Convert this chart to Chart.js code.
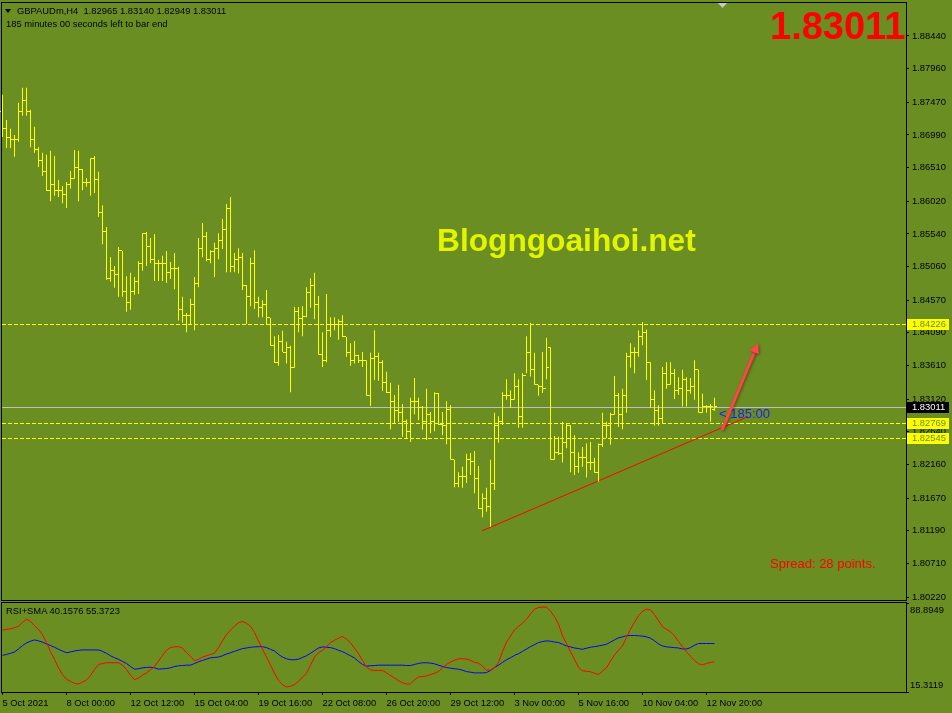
<!DOCTYPE html>
<html>
<head>
<meta charset="utf-8">
<title>GBPAUDm,H4</title>
<script src="https://cdn.jsdelivr.net/npm/chart.js@4.4.1/dist/chart.umd.min.js"></script>
<style>
  html, body { margin: 0; padding: 0; background: #6b8e23; }
  #wrap { position: relative; width: 952px; height: 713px; overflow: hidden; background: #6b8e23;
          font-family: 'Liberation Sans', Arial, sans-serif; }
  canvas { position: absolute; left: 0; }
  #cMain { top: 0; }
  #cRsi { top: 601px; }
  .txt { position: absolute; white-space: nowrap; }
  .small { font-size: 9.4px; line-height: 11px; color: #000; }
  .tri { position: absolute; left: 5px; top: 9px; width: 0; height: 0;
         border-left: 3.5px solid transparent; border-right: 3.5px solid transparent; border-top: 4px solid #000; }
</style>
</head>
<body>
<div id="wrap">
  <canvas id="cMain" width="952" height="602"></canvas>
  <canvas id="cRsi" width="952" height="112"></canvas>

  <div class="tri"></div>
  <div class="txt small" style="left:17px; top:5px;">GBPAUDm,H4&nbsp; 1.82965 1.83140 1.82949 1.83011</div>
  <div class="txt small" style="left:6px; top:18px;">185 minutes 00 seconds left to bar end</div>
  <div class="txt" style="left:770px; top:7px; font-size:38px; line-height:38px; font-weight:bold; color:#ff0000;">1.83011</div>
  <div class="txt" style="left:437px; top:225px; font-size:31.7px; line-height:31px; font-weight:bold; color:#e2f400;">Blogngoaihoi.net</div>
  <div class="txt" style="left:770px; top:557px; font-size:13px; line-height:13px; color:#ff0000;">Spread: 28 points.</div>
  <div class="txt" style="left:719px; top:407px; font-size:13px; line-height:13px; color:#1a1aff;">&lt; 185:00</div>
  <div class="txt small" style="left:6px; top:605px;">RSI+SMA 40.1576 55.3723</div>
</div>

<script>
// GBPAUD H4 bars (oldest first)
const opens = [
  1.8733,1.8708,1.8695,1.8692,1.8693,1.8734,1.8749,1.8733,1.8693,1.8677,
  1.8662,1.8645,1.8618,1.8627,1.8617,1.8617,1.8612,1.8627,1.8635,1.8651,
  1.8648,1.8629,1.8629,1.8664,1.8633,1.8586,1.8558,1.8489,1.8500,1.8494,
  1.8529,1.8469,1.8453,1.8470,1.8484,1.8511,1.8554,1.8535,1.8517,1.8510,
  1.8510,1.8511,1.8498,1.8504,1.8504,1.8443,1.8434,1.8434,1.8451,1.8482,
  1.8533,1.8550,1.8517,1.8528,1.8532,1.8545,1.8561,1.8591,1.8506,1.8516,
  1.8520,1.8479,1.8462,1.8510,1.8453,1.8446,1.8450,1.8431,1.8391,1.8366,
  1.8396,1.8381,1.8388,1.8359,1.8440,1.8430,1.8433,1.8468,1.8478,1.8451,
  1.8378,1.8368,1.8413,1.8422,1.8422,1.8425,1.8404,1.8381,1.8369,1.8376,
  1.8369,1.8369,1.8318,1.8372,1.8374,1.8366,1.8337,1.8322,1.8309,1.8295,
  1.8292,1.8279,1.8265,1.8308,1.8309,1.8299,1.8279,1.8290,1.8279,1.8320,
  1.8275,1.8274,1.8297,1.8223,1.8189,1.8198,1.8198,1.8223,1.8220,1.8195,
  1.8152,1.8167,1.8155,1.8189,1.8274,1.8279,1.8318,1.8317,1.8311,1.8330,
  1.8287,1.8347,1.8381,1.8356,1.8333,1.8330,1.8328,1.8388,1.8224,1.8234,
  1.8233,1.8249,1.8274,1.8234,1.8213,1.8227,1.8226,1.8219,1.8219,1.8205,
  1.8245,1.8274,1.8274,1.8290,1.8317,1.8289,1.8317,1.8374,1.8380,1.8381,
  1.8404,1.8409,1.8366,1.8311,1.8295,1.8284,1.8350,1.8334,1.8350,1.8325,
  1.8328,1.8340,1.8324,1.8330,1.8355,1.8293,1.8301,1.8301,1.82965
];
const highs = [
  1.8758,1.8721,1.8708,1.8699,1.8746,1.8768,1.8768,1.8736,1.8711,1.8681,
  1.8673,1.8670,1.8676,1.8668,1.8633,1.8624,1.8630,1.8646,1.8677,1.8676,
  1.8649,1.8636,1.8665,1.8668,1.8645,1.8596,1.8564,1.8520,1.8507,1.8535,
  1.8529,1.8492,1.8497,1.8491,1.8514,1.8555,1.8557,1.8548,1.8554,1.8516,
  1.8522,1.8529,1.8513,1.8526,1.8506,1.8462,1.8438,1.8459,1.8491,1.8548,
  1.8570,1.8557,1.8530,1.8541,1.8555,1.8576,1.8598,1.8608,1.8526,1.8533,
  1.8526,1.8479,1.8519,1.8530,1.8462,1.8457,1.8472,1.8431,1.8404,1.8406,
  1.8412,1.8396,1.8390,1.8447,1.8447,1.8448,1.8476,1.8489,1.8497,1.8463,
  1.8410,1.8466,1.8432,1.8432,1.8429,1.8435,1.8403,1.8394,1.8397,1.8377,
  1.8381,1.8369,1.8380,1.8413,1.8380,1.8369,1.8352,1.8336,1.8318,1.8333,
  1.8305,1.8282,1.8314,1.8343,1.8314,1.8302,1.8327,1.8293,1.8322,1.8321,
  1.8293,1.8309,1.8303,1.8223,1.8205,1.8213,1.8232,1.8233,1.8236,1.8214,
  1.8174,1.8182,1.8223,1.8292,1.8287,1.8322,1.8341,1.8325,1.8350,1.8341,
  1.8350,1.8404,1.8424,1.8380,1.8333,1.8381,1.8402,1.8388,1.8258,1.8257,
  1.8279,1.8277,1.8274,1.8259,1.8234,1.8242,1.8247,1.8249,1.8226,1.8247,
  1.8292,1.8279,1.8292,1.8346,1.8321,1.8327,1.8380,1.8394,1.8388,1.8413,
  1.8425,1.8414,1.8366,1.8325,1.8303,1.8359,1.8366,1.8366,1.8356,1.8344,
  1.8355,1.8344,1.8343,1.8369,1.8355,1.8320,1.8303,1.8305,1.83140
];
const lows = [
  1.8696,1.8680,1.8680,1.8667,1.8689,1.8727,1.8727,1.8681,1.8673,1.8652,
  1.8639,1.8617,1.8602,1.8610,1.8608,1.8599,1.8592,1.8620,1.8635,1.8602,
  1.8618,1.8623,1.8610,1.8614,1.8579,1.8539,1.8487,1.8484,1.8475,1.8462,
  1.8462,1.8440,1.8443,1.8465,1.8466,1.8500,1.8507,1.8511,1.8485,1.8485,
  1.8485,1.8482,1.8488,1.8473,1.8427,1.8424,1.8410,1.8422,1.8413,1.8476,
  1.8520,1.8514,1.8511,1.8491,1.8517,1.8532,1.8498,1.8498,1.8498,1.8496,
  1.8472,1.8422,1.8448,1.8444,1.8432,1.8432,1.8422,1.8390,1.8365,1.8361,
  1.8381,1.8364,1.8322,1.8358,1.8410,1.8404,1.8432,1.8446,1.8429,1.8377,
  1.8359,1.8366,1.8403,1.8413,1.8399,1.8403,1.8374,1.8361,1.8364,1.8365,
  1.8359,1.8317,1.8302,1.8340,1.8339,1.8324,1.8321,1.8268,1.8277,1.8279,
  1.8257,1.8254,1.8249,1.8290,1.8281,1.8267,1.8252,1.8262,1.8265,1.8274,
  1.8259,1.8246,1.8223,1.8183,1.8183,1.8182,1.8189,1.8201,1.8174,1.8151,
  1.8139,1.8147,1.8125,1.8179,1.8248,1.8274,1.8311,1.8299,1.8311,1.8270,
  1.8270,1.8350,1.8345,1.8333,1.8317,1.8321,1.8341,1.8223,1.8223,1.8230,
  1.8219,1.8240,1.8205,1.8201,1.8204,1.8213,1.8197,1.8208,1.8204,1.8191,
  1.8242,1.8255,1.8245,1.8289,1.8271,1.8268,1.8292,1.8358,1.8350,1.8374,
  1.8391,1.8340,1.8299,1.8273,1.8273,1.8277,1.8327,1.8333,1.8312,1.8318,
  1.8301,1.8301,1.8320,1.8311,1.8292,1.8292,1.8292,1.8279,1.82949
];
const closes = [
  1.8708,1.8695,1.8692,1.8693,1.8734,1.8749,1.8733,1.8693,1.8677,1.8662,
  1.8645,1.8618,1.8627,1.8617,1.8617,1.8612,1.8627,1.8635,1.8651,1.8648,
  1.8629,1.8629,1.8664,1.8633,1.8586,1.8558,1.8489,1.8500,1.8494,1.8529,
  1.8469,1.8453,1.8470,1.8484,1.8511,1.8554,1.8535,1.8517,1.8510,1.8510,
  1.8511,1.8498,1.8504,1.8504,1.8443,1.8434,1.8434,1.8451,1.8482,1.8533,
  1.8550,1.8517,1.8528,1.8532,1.8545,1.8561,1.8591,1.8506,1.8516,1.8520,
  1.8479,1.8462,1.8510,1.8453,1.8446,1.8450,1.8431,1.8391,1.8366,1.8396,
  1.8381,1.8388,1.8359,1.8440,1.8430,1.8433,1.8468,1.8478,1.8451,1.8378,
  1.8368,1.8413,1.8422,1.8422,1.8425,1.8404,1.8381,1.8369,1.8376,1.8369,
  1.8369,1.8318,1.8372,1.8374,1.8366,1.8337,1.8322,1.8309,1.8295,1.8292,
  1.8279,1.8265,1.8308,1.8309,1.8299,1.8279,1.8290,1.8279,1.8320,1.8275,
  1.8274,1.8297,1.8223,1.8189,1.8198,1.8198,1.8223,1.8220,1.8195,1.8152,
  1.8167,1.8155,1.8189,1.8274,1.8279,1.8318,1.8317,1.8311,1.8330,1.8287,
  1.8347,1.8381,1.8356,1.8333,1.8330,1.8328,1.8359,1.8224,1.8234,1.8233,
  1.8249,1.8274,1.8234,1.8213,1.8227,1.8226,1.8219,1.8219,1.8205,1.8245,
  1.8274,1.8274,1.8290,1.8317,1.8289,1.8317,1.8374,1.8380,1.8381,1.8404,
  1.8409,1.8366,1.8311,1.8295,1.8284,1.8350,1.8334,1.8350,1.8325,1.8328,
  1.8340,1.8324,1.8330,1.8355,1.8293,1.8301,1.8301,1.8301,1.83011
];

// RSI (red) and its SMA (blue), one value per bar
const rsiValues = [
  66.5,67.1,67.6,68.5,69.8,72.9,75.4,73.7,70.1,67.1,
  62.6,56.2,48.7,42.3,35.3,29.7,25.8,24.1,22.5,21.9,
  23.6,25.3,28.9,33.9,38.1,38.9,39.5,39.5,39.5,39.5,
  37.5,33.9,29.2,25.5,26.9,29.2,31.1,33.6,36.4,40.9,
  45.6,49.8,52.0,52.6,52.8,51.5,47.8,44.8,41.1,42.3,
  44.2,45.3,46.4,47.5,52.0,57.6,62.9,66.5,69.8,72.6,
  73.7,72.1,69.6,64.5,57.6,50.6,44.2,37.5,30.8,24.7,
  21.4,19.4,20.0,21.4,24.1,27.5,30.8,37.5,44.2,47.8,
  49.8,52.6,56.2,58.1,59.8,61.2,59.0,55.9,51.5,47.0,
  41.4,35.8,33.6,33.1,33.1,33.1,31.1,28.9,26.9,24.7,
  23.0,21.9,21.9,25.5,27.8,28.0,28.6,29.7,30.8,32.2,
  35.3,38.1,40.0,41.7,42.8,42.8,42.5,41.4,39.8,39.2,
  36.7,33.3,33.6,35.3,39.8,48.7,56.5,61.5,66.5,69.6,
  72.1,75.4,79.9,83.8,85.2,85.5,85.5,82.1,77.6,71.5,
  61.8,55.4,48.7,42.3,35.8,32.8,32.5,32.0,30.8,29.7,
  32.5,35.3,40.9,45.9,49.8,53.4,60.4,67.3,72.9,78.5,
  82.1,83.8,83.2,79.3,74.3,69.3,67.1,65.1,61.8,57.0,
  52.6,48.7,44.8,41.4,38.6,37.8,38.9,39.8,40.1576
];
const smaValues = [
  45.6,46.4,47.3,48.4,50.9,53.7,55.9,57.3,58.4,57.6,
  56.5,55.1,53.7,52.3,50.6,49.2,47.8,48.4,49.2,49.8,
  50.1,50.1,50.1,50.1,50.1,48.9,47.3,45.3,43.6,42.3,
  40.6,38.9,36.4,34.2,34.5,35.3,35.6,35.8,35.3,34.2,
  34.5,34.7,35.3,36.4,37.0,37.2,37.5,37.5,38.9,40.3,
  41.4,42.5,43.6,43.9,44.2,45.3,46.7,47.8,48.9,50.1,
  51.2,51.7,52.3,52.6,52.8,52.8,52.0,50.6,49.2,46.4,
  44.2,42.8,42.0,42.0,42.5,43.9,45.3,47.3,49.5,51.7,
  52.6,52.3,52.0,51.2,49.8,48.7,47.0,45.3,43.4,40.6,
  38.1,36.7,37.0,37.2,37.5,37.5,37.5,37.5,37.5,37.5,
  37.5,37.2,37.2,38.1,38.9,39.5,39.5,39.2,38.6,37.5,
  36.4,35.6,35.0,34.5,34.2,33.3,32.2,31.7,31.1,31.1,
  31.1,31.4,33.1,35.6,37.5,39.8,42.0,43.6,45.6,47.0,
  48.9,50.9,52.8,54.5,56.2,57.0,57.6,57.3,56.7,56.2,
  54.8,53.4,52.6,51.7,51.2,50.6,51.5,52.3,52.8,53.4,
  54.0,54.8,56.5,58.4,60.1,60.9,61.8,62.0,62.0,61.8,
  61.5,60.9,59.8,57.6,55.1,53.4,52.6,52.3,52.0,51.7,
  50.9,50.9,52.0,54.0,55.4,55.4,55.4,55.4,55.3723
];

// axes
const priceTicks = [1.88440,1.87960,1.87470,1.86990,1.86510,1.86020,1.85540,1.85060,1.84570,
                    1.84090,1.83610,1.83120,1.82640,1.82160,1.81670,1.81190,1.80710,1.80220];
const priceMin = 1.80177, priceMax = 1.88923;
const rsiMin = 15.3119, rsiMax = 88.8949;
const timeTickBars = [0,16,32,48,64,80,96,112,128,144,160,176];
const timeLabels = ['5 Oct 2021','8 Oct 00:00','12 Oct 12:00','15 Oct 04:00','19 Oct 16:00','22 Oct 08:00',
                    '26 Oct 20:00','29 Oct 12:00','3 Nov 00:00','5 Nov 16:00','10 Nov 04:00','12 Nov 20:00'];

// drawn objects
const levelPrices = [1.84226, 1.82769, 1.82545];
const bidPrice = 1.83011;
const trendX = [119.9, 186.2];
const trendY = [1.8119, 1.8286];
const arrowX = [179.9, 188.9];
const arrowY = [1.8267, 1.8394];
const shiftBar = 180;

// 4 px per bar over the 904 px plot
const xMin = -0.125, xMax = 225.875;
const FONT = { family: "'Liberation Sans', Arial, sans-serif", size: 9.4 };

const framePlugin = {
  id: 'frame',
  afterDraw(chart) {
    const a = chart.chartArea, c = chart.ctx;
    c.save();
    c.strokeStyle = '#000';
    c.lineWidth = 1;
    c.strokeRect(a.left - 0.5, a.top - 0.5, a.right - a.left + 1, a.bottom - a.top + 1);
    c.restore();
  }
};

const mainPlugin = {
  id: 'mt4main',
  beforeDatasetsDraw(chart) {
    const { ctx, chartArea: a, scales: { y } } = chart;
    ctx.save();
    ctx.beginPath();
    ctx.rect(a.left, a.top, a.right - a.left, a.bottom - a.top);
    ctx.clip();
    ctx.lineWidth = 1;
    const by = Math.round(y.getPixelForValue(bidPrice)) + 0.5;
    ctx.strokeStyle = '#c0c0c0';
    ctx.beginPath(); ctx.moveTo(a.left, by); ctx.lineTo(a.right, by); ctx.stroke();
    ctx.strokeStyle = '#ffff00';
    ctx.setLineDash([4, 2]);
    levelPrices.forEach(v => {
      const py = Math.round(y.getPixelForValue(v)) + 0.5;
      ctx.beginPath(); ctx.moveTo(a.left, py); ctx.lineTo(a.right, py); ctx.stroke();
    });
    ctx.restore();
  },
  afterDatasetsDraw(chart) {
    const { ctx, chartArea: a, scales: { x, y } } = chart;
    ctx.save();
    // open / close ticks
    ctx.fillStyle = '#ffff00';
    opens.forEach((o, i) => {
      const col = Math.floor(x.getPixelForValue(i));
      ctx.fillRect(col - 2, Math.floor(y.getPixelForValue(o)), 2, 1);
      ctx.fillRect(col + 1, Math.floor(y.getPixelForValue(closes[i])), 2, 1);
    });
    // arrow
    const x0 = x.getPixelForValue(arrowX[0]), y0 = y.getPixelForValue(arrowY[0]);
    const x1 = x.getPixelForValue(arrowX[1]), y1 = y.getPixelForValue(arrowY[1]);
    const ang = Math.atan2(y1 - y0, x1 - x0);
    const head = 10, half = 5;
    ctx.shadowColor = 'rgba(40,0,0,0.45)';
    ctx.shadowBlur = 3;
    ctx.shadowOffsetX = 1;
    ctx.shadowOffsetY = 1;
    ctx.strokeStyle = '#ff4545';
    ctx.fillStyle = '#ff4545';
    ctx.lineWidth = 3;
    ctx.beginPath();
    ctx.moveTo(x0, y0);
    ctx.lineTo(x1 - Math.cos(ang) * head * 0.8, y1 - Math.sin(ang) * head * 0.8);
    ctx.stroke();
    ctx.beginPath();
    ctx.moveTo(x1, y1);
    ctx.lineTo(x1 - Math.cos(ang) * head - Math.sin(ang) * half, y1 - Math.sin(ang) * head + Math.cos(ang) * half);
    ctx.lineTo(x1 - Math.cos(ang) * head + Math.sin(ang) * half, y1 - Math.sin(ang) * head - Math.cos(ang) * half);
    ctx.closePath();
    ctx.fill();
    ctx.restore();

    // chart shift marker
    const sx = x.getPixelForValue(shiftBar);
    ctx.save();
    ctx.fillStyle = '#c8c8c8';
    ctx.beginPath();
    ctx.moveTo(sx - 4.5, a.top);
    ctx.lineTo(sx + 4.5, a.top);
    ctx.lineTo(sx, a.top + 5);
    ctx.closePath();
    ctx.fill();
    ctx.restore();
  },
  afterDraw(chart) {
    const { ctx, chartArea: a, scales: { y } } = chart;
    ctx.save();
    ctx.font = "9.4px 'Liberation Sans', Arial, sans-serif";
    ctx.textBaseline = 'middle';
    const boxes = levelPrices.map(v => ({ v, bg: '#ffff00', fg: '#6b8e23', mark: '#ffff00' }));
    boxes.push({ v: bidPrice, bg: '#000000', fg: '#ffffff', mark: '#c0c0c0' });
    boxes.forEach(b => {
      const py = Math.round(y.getPixelForValue(b.v));
      ctx.fillStyle = b.mark;
      ctx.fillRect(a.right - 4, py, 3, 1);
      ctx.fillStyle = b.bg;
      ctx.fillRect(a.right + 1, py - 5, 42, 11);
      ctx.fillStyle = b.fg;
      ctx.fillText(b.v.toFixed(5), a.right + 6, py + 0.5);
    });
    ctx.restore();
  }
};

const mainChart = new Chart(document.getElementById('cMain'), {
  type: 'bar',
  data: {
    datasets: [
      {
        type: 'bar',
        data: highs.map((h, i) => ({ x: i, y: [lows[i], h] })),
        backgroundColor: '#ffff00',
        borderWidth: 0,
        barThickness: 1,
        inflateAmount: 0
      },
      {
        type: 'line',
        data: trendX.map((v, k) => ({ x: v, y: trendY[k] })),
        borderColor: '#ff0000',
        borderWidth: 1,
        pointRadius: 0,
        tension: 0
      }
    ]
  },
  options: {
    responsive: false,
    animation: false,
    events: [],
    layout: { padding: { left: 2, top: 3, right: 0, bottom: 2 } },
    plugins: { legend: { display: false }, tooltip: { enabled: false } },
    scales: {
      x: { type: 'linear', min: xMin, max: xMax, offset: false, display: false },
      y: {
        position: 'right',
        min: priceMin,
        max: priceMax,
        afterFit(s) { s.width = 46; s.paddingTop = 0; s.paddingBottom = 0; },
        afterBuildTicks(s) { s.ticks = priceTicks.map(v => ({ value: v })); },
        ticks: { callback: v => v.toFixed(5), color: '#000', font: FONT, padding: 3, autoSkip: false },
        grid: { drawOnChartArea: false, drawTicks: true, tickLength: 3, color: '#000' },
        border: { display: true, color: '#000' }
      }
    }
  },
  plugins: [mainPlugin, framePlugin]
});

const rsiPlugin = {
  id: 'rsiLabels',
  afterDraw(chart) {
    const { ctx, chartArea: a, scales: { y } } = chart;
    ctx.save();
    ctx.font = "9.4px 'Liberation Sans', Arial, sans-serif";
    ctx.fillStyle = '#000';
    ctx.textBaseline = 'middle';
    ctx.fillText(y.max.toFixed(4), a.right + 4, a.top + 7);
    ctx.fillText(y.min.toFixed(4), a.right + 4, a.bottom - 7);
    ctx.restore();
  }
};

const rsiChart = new Chart(document.getElementById('cRsi'), {
  type: 'line',
  data: {
    datasets: [
      { data: rsiValues.map((v, i) => ({ x: i, y: v })), borderColor: '#ff0000', borderWidth: 1, pointRadius: 0, tension: 0 },
      { data: smaValues.map((v, i) => ({ x: i, y: v })), borderColor: '#0000ff', borderWidth: 1, pointRadius: 0, tension: 0 }
    ]
  },
  options: {
    responsive: false,
    animation: false,
    events: [],
    layout: { padding: { left: 2, top: 2, right: 0, bottom: 0 } },
    plugins: { legend: { display: false }, tooltip: { enabled: false } },
    scales: {
      x: {
        type: 'linear', min: xMin, max: xMax,
        afterFit(s) { s.height = 21; s.paddingLeft = 0; s.paddingRight = 0; },
        afterBuildTicks(s) { s.ticks = timeTickBars.map(v => ({ value: v })); },
        ticks: { callback: (v, k) => timeLabels[k], align: 'start', maxRotation: 0, autoSkip: false,
                 color: '#000', font: FONT, padding: 3 },
        grid: { drawOnChartArea: false, drawTicks: true, tickLength: 3, color: '#000' },
        border: { display: true, color: '#000' }
      },
      y: {
        position: 'right', min: rsiMin, max: rsiMax,
        afterFit(s) { s.width = 46; s.paddingTop = 0; s.paddingBottom = 0; },
        afterBuildTicks(s) { s.ticks = [{ value: rsiMin }, { value: rsiMax }]; },
        ticks: { display: false },
        grid: { drawOnChartArea: false, drawTicks: true, tickLength: 3, color: '#000' },
        border: { display: true, color: '#000' }
      }
    }
  },
  plugins: [rsiPlugin, framePlugin]
});
</script>
</body>
</html>
